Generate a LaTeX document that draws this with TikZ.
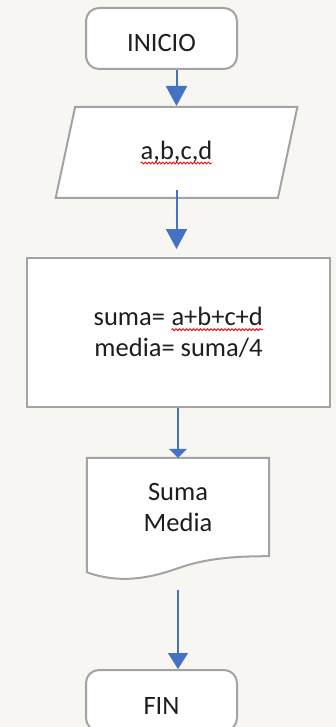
\documentclass[tikz,border=0pt]{standalone}
\usepackage{fontspec}
\setmainfont{Carlito}
\usetikzlibrary{shapes.geometric,arrows.meta,backgrounds,decorations.pathmorphing}

\definecolor{fondo}{RGB}{247,246,243}
\definecolor{borde}{RGB}{163,163,163}
\definecolor{azul}{RGB}{68,114,196}
\definecolor{texto}{RGB}{30,30,30}

% subrayado ondulado rojo
\newcommand\ortografia[1]{\tikz[baseline=(o.base)]{%
  \node[shape=rectangle, draw=none, fill=none, inner sep=0pt, outer sep=0pt,
    minimum width=0pt, minimum height=0pt] (o) {#1};
  \draw[red, line width=0.9pt, decorate,
    decoration={snake, amplitude=0.9pt, segment length=3.5pt}]
    ([yshift=-4pt]o.base west) -- ([yshift=-4pt]o.base east);}}

\begin{document}
\begin{tikzpicture}[x=1pt, y=-1pt,
  every node/.style={font=\fontsize{26.5}{31}\selectfont, text=texto},
  terminal/.style={draw=borde, line width=2pt, fill=white, rounded corners=13pt,
    minimum width=151pt, minimum height=61pt, text height=27pt, text depth=0pt},
  entrada/.style={trapezium, trapezium left angle=76, trapezium right angle=104,
    trapezium stretches=true, draw=borde, line width=2pt, fill=white,
    minimum width=242pt, minimum height=91pt},
  proceso/.style={draw=borde, line width=2pt, fill=white, align=center,
    minimum width=303pt, minimum height=149pt},
  documento/.style={align=center, minimum width=182pt, minimum height=98pt},
  flecha/.style={color=azul, line width=2pt, -{Triangle[length=20pt,width=21pt]}},
  flechafina/.style={color=azul, line width=1.2pt, -{Triangle[length=16pt,width=20pt]}},
  flechacorta/.style={flechafina, -{Triangle[length=9pt,width=18pt]}}
  ]
  \useasboundingbox (0,0) rectangle (336,727);

  \node[terminal] (inicio) at (161.5,38.5) {INICIO};
  \node[entrada] (datos) at (176.5,152.5) {\ortografia{a,b,c,d}};
  \node[proceso] (calculo) at (178.5,332.5) {suma= \ortografia{a+b+c+d}\\media= suma/4};
  \node[documento] (salida) at (178,507) {Suma\\Media};
  \node[terminal] (fin) at (161.5,700.5) {FIN};

  \begin{scope}[on background layer]
    \fill[fondo] (0,0) rectangle (336,727);
    \draw[borde, line width=2pt, fill=white] (salida.south east) -- (salida.north east)
      -- (salida.north west) -- ([yshift=-16pt]salida.south west)
      .. controls +(33,12) and +(-28,10) .. ([yshift=-12pt]salida.south)
      .. controls +(28,-10) and +(-34,0) .. (salida.south east) -- cycle;
  \end{scope}

  \path
  (inicio.south -| datos.north) edge[flecha] (datos.north)
  ([yshift=9pt]datos.south) edge[flecha] ([yshift=8pt]datos.south |- calculo.north)
  (calculo.south -| salida.north) edge[flechacorta] (salida.north)
  ([yshift=-34pt]salida.south) edge[flechafina] (salida.south |- fin.north)
  ;
\end{tikzpicture}
\end{document}
